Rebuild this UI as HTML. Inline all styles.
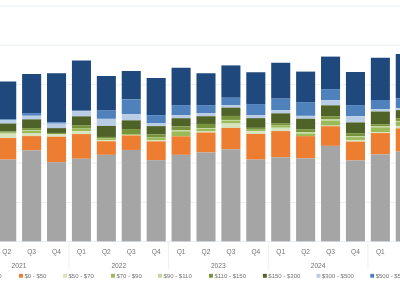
<!DOCTYPE html>
<html><head><meta charset="utf-8"><style>
html,body{margin:0;padding:0;background:#fff;width:400px;height:283px;overflow:hidden}
svg{display:block;position:absolute;left:0;top:0}
.t{will-change:transform}
text{font-family:"Liberation Sans",sans-serif;fill:#737373}
.q{font-size:7.2px}
.yr{font-size:7.6px}
.lg{font-size:6px}
</style></head><body>
<svg width="400" height="283" viewBox="0 0 400 283">
<rect x="0" y="5.50" width="400" height="1" fill="#EAF0F8"/>
<rect x="0" y="44.78" width="400" height="1" fill="#EAF0F8"/>
<rect x="0" y="84.06" width="400" height="1" fill="#EAF0F8"/>
<rect x="0" y="123.34" width="400" height="1" fill="#EAF0F8"/>
<rect x="0" y="162.62" width="400" height="1" fill="#EAF0F8"/>
<rect x="0" y="201.90" width="400" height="1" fill="#EAF0F8"/>
<rect x="0" y="240.90" width="400" height="1" fill="#E9EFF8"/>
<rect x="-2.81" y="81.50" width="19.05" height="37.85" fill="#1F497D"/>
<rect x="-2.81" y="119.35" width="19.05" height="1.00" fill="#4F81BD"/>
<rect x="-2.81" y="120.35" width="19.05" height="3.20" fill="#B9CDE5"/>
<rect x="-2.81" y="123.55" width="19.05" height="7.80" fill="#4F6228"/>
<rect x="-2.81" y="131.35" width="19.05" height="1.30" fill="#77933C"/>
<rect x="-2.81" y="132.65" width="19.05" height="1.00" fill="#9BBB59"/>
<rect x="-2.81" y="133.65" width="19.05" height="4.40" fill="#D7E4BD"/>
<rect x="-2.81" y="138.05" width="19.05" height="21.55" fill="#ED7D31"/>
<rect x="-2.81" y="159.60" width="19.05" height="81.80" fill="#A5A5A5"/>
<rect x="22.10" y="74.00" width="19.05" height="39.10" fill="#1F497D"/>
<rect x="22.10" y="113.10" width="19.05" height="2.65" fill="#4F81BD"/>
<rect x="22.10" y="115.75" width="19.05" height="3.60" fill="#B9CDE5"/>
<rect x="22.10" y="119.35" width="19.05" height="8.80" fill="#4F6228"/>
<rect x="22.10" y="128.15" width="19.05" height="1.95" fill="#77933C"/>
<rect x="22.10" y="130.10" width="19.05" height="0.85" fill="#C3D69B"/>
<rect x="22.10" y="130.95" width="19.05" height="2.50" fill="#9BBB59"/>
<rect x="22.10" y="133.45" width="19.05" height="2.65" fill="#D7E4BD"/>
<rect x="22.10" y="136.10" width="19.05" height="14.25" fill="#ED7D31"/>
<rect x="22.10" y="150.35" width="19.05" height="91.05" fill="#A5A5A5"/>
<rect x="47.01" y="73.25" width="19.05" height="49.00" fill="#1F497D"/>
<rect x="47.01" y="122.25" width="19.05" height="1.40" fill="#4F81BD"/>
<rect x="47.01" y="123.65" width="19.05" height="4.50" fill="#B9CDE5"/>
<rect x="47.01" y="128.15" width="19.05" height="4.80" fill="#4F6228"/>
<rect x="47.01" y="132.95" width="19.05" height="1.00" fill="#77933C"/>
<rect x="47.01" y="133.95" width="19.05" height="0.40" fill="#9BBB59"/>
<rect x="47.01" y="134.35" width="19.05" height="2.40" fill="#D7E4BD"/>
<rect x="47.01" y="136.75" width="19.05" height="25.40" fill="#ED7D31"/>
<rect x="47.01" y="162.15" width="19.05" height="79.25" fill="#A5A5A5"/>
<rect x="71.92" y="60.50" width="19.05" height="50.15" fill="#1F497D"/>
<rect x="71.92" y="110.65" width="19.05" height="0.50" fill="#4F81BD"/>
<rect x="71.92" y="111.15" width="19.05" height="5.20" fill="#B9CDE5"/>
<rect x="71.92" y="116.35" width="19.05" height="9.25" fill="#4F6228"/>
<rect x="71.92" y="125.60" width="19.05" height="2.85" fill="#77933C"/>
<rect x="71.92" y="128.45" width="19.05" height="2.60" fill="#9BBB59"/>
<rect x="71.92" y="131.05" width="19.05" height="3.05" fill="#D7E4BD"/>
<rect x="71.92" y="134.10" width="19.05" height="24.65" fill="#ED7D31"/>
<rect x="71.92" y="158.75" width="19.05" height="82.65" fill="#A5A5A5"/>
<rect x="96.83" y="76.00" width="19.05" height="34.60" fill="#1F497D"/>
<rect x="96.83" y="110.60" width="19.05" height="8.25" fill="#4F81BD"/>
<rect x="96.83" y="118.85" width="19.05" height="7.10" fill="#B9CDE5"/>
<rect x="96.83" y="125.95" width="19.05" height="11.00" fill="#4F6228"/>
<rect x="96.83" y="136.95" width="19.05" height="1.50" fill="#77933C"/>
<rect x="96.83" y="138.45" width="19.05" height="1.70" fill="#9BBB59"/>
<rect x="96.83" y="140.15" width="19.05" height="1.10" fill="#D7E4BD"/>
<rect x="96.83" y="141.25" width="19.05" height="13.60" fill="#ED7D31"/>
<rect x="96.83" y="154.85" width="19.05" height="86.55" fill="#A5A5A5"/>
<rect x="121.74" y="71.00" width="19.05" height="28.35" fill="#1F497D"/>
<rect x="121.74" y="99.35" width="19.05" height="14.75" fill="#4F81BD"/>
<rect x="121.74" y="114.10" width="19.05" height="6.25" fill="#B9CDE5"/>
<rect x="121.74" y="120.35" width="19.05" height="8.70" fill="#4F6228"/>
<rect x="121.74" y="129.05" width="19.05" height="5.10" fill="#77933C"/>
<rect x="121.74" y="134.15" width="19.05" height="0.90" fill="#9BBB59"/>
<rect x="121.74" y="135.05" width="19.05" height="0.40" fill="#D7E4BD"/>
<rect x="121.74" y="135.45" width="19.05" height="14.50" fill="#ED7D31"/>
<rect x="121.74" y="149.95" width="19.05" height="91.45" fill="#A5A5A5"/>
<rect x="146.65" y="78.00" width="19.05" height="37.15" fill="#1F497D"/>
<rect x="146.65" y="115.15" width="19.05" height="8.20" fill="#4F81BD"/>
<rect x="146.65" y="123.35" width="19.05" height="2.80" fill="#B9CDE5"/>
<rect x="146.65" y="126.15" width="19.05" height="8.30" fill="#4F6228"/>
<rect x="146.65" y="134.45" width="19.05" height="3.00" fill="#77933C"/>
<rect x="146.65" y="137.45" width="19.05" height="2.90" fill="#9BBB59"/>
<rect x="146.65" y="140.35" width="19.05" height="1.00" fill="#D7E4BD"/>
<rect x="146.65" y="141.35" width="19.05" height="18.80" fill="#ED7D31"/>
<rect x="146.65" y="160.15" width="19.05" height="81.25" fill="#A5A5A5"/>
<rect x="171.56" y="67.75" width="19.05" height="37.35" fill="#1F497D"/>
<rect x="171.56" y="105.10" width="19.05" height="10.25" fill="#4F81BD"/>
<rect x="171.56" y="115.35" width="19.05" height="2.90" fill="#B9CDE5"/>
<rect x="171.56" y="118.25" width="19.05" height="8.10" fill="#4F6228"/>
<rect x="171.56" y="126.35" width="19.05" height="4.00" fill="#77933C"/>
<rect x="171.56" y="130.35" width="19.05" height="1.00" fill="#C3D69B"/>
<rect x="171.56" y="131.35" width="19.05" height="5.00" fill="#9BBB59"/>
<rect x="171.56" y="136.35" width="19.05" height="18.50" fill="#ED7D31"/>
<rect x="171.56" y="154.85" width="19.05" height="86.55" fill="#A5A5A5"/>
<rect x="196.47" y="73.25" width="19.05" height="31.85" fill="#1F497D"/>
<rect x="196.47" y="105.10" width="19.05" height="8.25" fill="#4F81BD"/>
<rect x="196.47" y="113.35" width="19.05" height="2.90" fill="#B9CDE5"/>
<rect x="196.47" y="116.25" width="19.05" height="7.70" fill="#4F6228"/>
<rect x="196.47" y="123.95" width="19.05" height="4.10" fill="#77933C"/>
<rect x="196.47" y="128.05" width="19.05" height="0.80" fill="#C3D69B"/>
<rect x="196.47" y="128.85" width="19.05" height="2.60" fill="#9BBB59"/>
<rect x="196.47" y="131.45" width="19.05" height="1.10" fill="#D7E4BD"/>
<rect x="196.47" y="132.55" width="19.05" height="19.80" fill="#ED7D31"/>
<rect x="196.47" y="152.35" width="19.05" height="89.05" fill="#A5A5A5"/>
<rect x="221.38" y="65.40" width="19.05" height="32.35" fill="#1F497D"/>
<rect x="221.38" y="97.75" width="19.05" height="7.60" fill="#4F81BD"/>
<rect x="221.38" y="105.35" width="19.05" height="2.30" fill="#B9CDE5"/>
<rect x="221.38" y="107.65" width="19.05" height="8.30" fill="#4F6228"/>
<rect x="221.38" y="115.95" width="19.05" height="4.00" fill="#77933C"/>
<rect x="221.38" y="119.95" width="19.05" height="0.80" fill="#C3D69B"/>
<rect x="221.38" y="120.75" width="19.05" height="2.70" fill="#9BBB59"/>
<rect x="221.38" y="123.45" width="19.05" height="4.50" fill="#D7E4BD"/>
<rect x="221.38" y="127.95" width="19.05" height="21.30" fill="#ED7D31"/>
<rect x="221.38" y="149.25" width="19.05" height="92.15" fill="#A5A5A5"/>
<rect x="246.29" y="72.25" width="19.05" height="31.80" fill="#1F497D"/>
<rect x="246.29" y="104.05" width="19.05" height="11.30" fill="#4F81BD"/>
<rect x="246.29" y="115.35" width="19.05" height="2.80" fill="#B9CDE5"/>
<rect x="246.29" y="118.15" width="19.05" height="9.70" fill="#4F6228"/>
<rect x="246.29" y="127.85" width="19.05" height="1.90" fill="#77933C"/>
<rect x="246.29" y="129.75" width="19.05" height="1.60" fill="#9BBB59"/>
<rect x="246.29" y="131.35" width="19.05" height="2.60" fill="#D7E4BD"/>
<rect x="246.29" y="133.95" width="19.05" height="25.65" fill="#ED7D31"/>
<rect x="246.29" y="159.60" width="19.05" height="81.80" fill="#A5A5A5"/>
<rect x="271.20" y="62.75" width="19.05" height="35.90" fill="#1F497D"/>
<rect x="271.20" y="98.65" width="19.05" height="11.60" fill="#4F81BD"/>
<rect x="271.20" y="110.25" width="19.05" height="3.10" fill="#B9CDE5"/>
<rect x="271.20" y="113.35" width="19.05" height="9.80" fill="#4F6228"/>
<rect x="271.20" y="123.15" width="19.05" height="2.30" fill="#77933C"/>
<rect x="271.20" y="125.45" width="19.05" height="2.30" fill="#9BBB59"/>
<rect x="271.20" y="127.75" width="19.05" height="3.35" fill="#D7E4BD"/>
<rect x="271.20" y="131.10" width="19.05" height="26.25" fill="#ED7D31"/>
<rect x="271.20" y="157.35" width="19.05" height="84.05" fill="#A5A5A5"/>
<rect x="296.11" y="71.60" width="19.05" height="30.50" fill="#1F497D"/>
<rect x="296.11" y="102.10" width="19.05" height="13.75" fill="#4F81BD"/>
<rect x="296.11" y="115.85" width="19.05" height="2.90" fill="#B9CDE5"/>
<rect x="296.11" y="118.75" width="19.05" height="10.40" fill="#4F6228"/>
<rect x="296.11" y="129.15" width="19.05" height="3.10" fill="#77933C"/>
<rect x="296.11" y="132.25" width="19.05" height="1.70" fill="#C3D69B"/>
<rect x="296.11" y="133.95" width="19.05" height="2.20" fill="#9BBB59"/>
<rect x="296.11" y="136.15" width="19.05" height="22.20" fill="#ED7D31"/>
<rect x="296.11" y="158.35" width="19.05" height="83.05" fill="#A5A5A5"/>
<rect x="321.02" y="56.60" width="19.05" height="32.50" fill="#1F497D"/>
<rect x="321.02" y="89.10" width="19.05" height="11.10" fill="#4F81BD"/>
<rect x="321.02" y="100.20" width="19.05" height="5.15" fill="#B9CDE5"/>
<rect x="321.02" y="105.35" width="19.05" height="10.90" fill="#4F6228"/>
<rect x="321.02" y="116.25" width="19.05" height="3.20" fill="#77933C"/>
<rect x="321.02" y="119.45" width="19.05" height="1.30" fill="#C3D69B"/>
<rect x="321.02" y="120.75" width="19.05" height="4.90" fill="#9BBB59"/>
<rect x="321.02" y="125.65" width="19.05" height="0.60" fill="#D7E4BD"/>
<rect x="321.02" y="126.25" width="19.05" height="19.60" fill="#ED7D31"/>
<rect x="321.02" y="145.85" width="19.05" height="95.55" fill="#A5A5A5"/>
<rect x="345.93" y="72.00" width="19.05" height="33.10" fill="#1F497D"/>
<rect x="345.93" y="105.10" width="19.05" height="11.10" fill="#4F81BD"/>
<rect x="345.93" y="116.20" width="19.05" height="6.25" fill="#B9CDE5"/>
<rect x="345.93" y="122.45" width="19.05" height="10.70" fill="#4F6228"/>
<rect x="345.93" y="133.15" width="19.05" height="3.20" fill="#77933C"/>
<rect x="345.93" y="136.35" width="19.05" height="0.75" fill="#C3D69B"/>
<rect x="345.93" y="137.10" width="19.05" height="2.85" fill="#9BBB59"/>
<rect x="345.93" y="139.95" width="19.05" height="1.70" fill="#D7E4BD"/>
<rect x="345.93" y="141.65" width="19.05" height="18.70" fill="#ED7D31"/>
<rect x="345.93" y="160.35" width="19.05" height="81.05" fill="#A5A5A5"/>
<rect x="370.84" y="57.75" width="19.05" height="42.26" fill="#1F497D"/>
<rect x="370.84" y="100.01" width="19.05" height="9.29" fill="#4F81BD"/>
<rect x="370.84" y="109.30" width="19.05" height="2.25" fill="#B9CDE5"/>
<rect x="370.84" y="111.55" width="19.05" height="12.70" fill="#4F6228"/>
<rect x="370.84" y="124.25" width="19.05" height="2.10" fill="#77933C"/>
<rect x="370.84" y="126.35" width="19.05" height="1.00" fill="#C3D69B"/>
<rect x="370.84" y="127.35" width="19.05" height="4.80" fill="#9BBB59"/>
<rect x="370.84" y="132.15" width="19.05" height="0.95" fill="#D7E4BD"/>
<rect x="370.84" y="133.10" width="19.05" height="21.25" fill="#ED7D31"/>
<rect x="370.84" y="154.35" width="19.05" height="87.05" fill="#A5A5A5"/>
<rect x="395.75" y="54.00" width="19.05" height="44.15" fill="#1F497D"/>
<rect x="395.75" y="98.15" width="19.05" height="10.10" fill="#4F81BD"/>
<rect x="395.75" y="108.25" width="19.05" height="1.90" fill="#B9CDE5"/>
<rect x="395.75" y="110.15" width="19.05" height="8.10" fill="#4F6228"/>
<rect x="395.75" y="118.25" width="19.05" height="2.70" fill="#77933C"/>
<rect x="395.75" y="120.95" width="19.05" height="1.10" fill="#C3D69B"/>
<rect x="395.75" y="122.05" width="19.05" height="3.90" fill="#9BBB59"/>
<rect x="395.75" y="125.95" width="19.05" height="2.40" fill="#D7E4BD"/>
<rect x="395.75" y="128.35" width="19.05" height="23.25" fill="#ED7D31"/>
<rect x="395.75" y="151.60" width="19.05" height="89.80" fill="#A5A5A5"/>
<rect x="68.50" y="241.40" width="1" height="27.80" fill="#E9EFF8"/>
<rect x="168.10" y="241.40" width="1" height="27.80" fill="#E9EFF8"/>
<rect x="267.80" y="241.40" width="1" height="27.80" fill="#E9EFF8"/>
<rect x="367.40" y="241.40" width="1" height="27.80" fill="#E9EFF8"/>
<rect x="19.00" y="273.85" width="3.9" height="3.9" fill="#ED7D31"/>
<rect x="63.10" y="273.85" width="3.9" height="3.9" fill="#D7E4BD"/>
<rect x="111.00" y="273.85" width="3.9" height="3.9" fill="#9BBB59"/>
<rect x="158.10" y="273.85" width="3.9" height="3.9" fill="#C3D69B"/>
<rect x="209.00" y="273.85" width="3.9" height="3.9" fill="#77933C"/>
<rect x="262.90" y="273.85" width="3.9" height="3.9" fill="#4F6228"/>
<rect x="316.50" y="273.85" width="3.9" height="3.9" fill="#B9CDE5"/>
<rect x="370.25" y="273.85" width="3.9" height="3.9" fill="#4F81BD"/>
</svg>
<svg class="t" width="400" height="283" viewBox="0 0 400 283">
<text transform="translate(6.71 254.2) scale(0.92 1)" class="q" text-anchor="middle">Q2</text>
<text transform="translate(31.62 254.2) scale(0.92 1)" class="q" text-anchor="middle">Q3</text>
<text transform="translate(56.53 254.2) scale(0.92 1)" class="q" text-anchor="middle">Q4</text>
<text transform="translate(81.45 254.2) scale(0.92 1)" class="q" text-anchor="middle">Q1</text>
<text transform="translate(106.36 254.2) scale(0.92 1)" class="q" text-anchor="middle">Q2</text>
<text transform="translate(131.26 254.2) scale(0.92 1)" class="q" text-anchor="middle">Q3</text>
<text transform="translate(156.18 254.2) scale(0.92 1)" class="q" text-anchor="middle">Q4</text>
<text transform="translate(181.09 254.2) scale(0.92 1)" class="q" text-anchor="middle">Q1</text>
<text transform="translate(206.00 254.2) scale(0.92 1)" class="q" text-anchor="middle">Q2</text>
<text transform="translate(230.91 254.2) scale(0.92 1)" class="q" text-anchor="middle">Q3</text>
<text transform="translate(255.81 254.2) scale(0.92 1)" class="q" text-anchor="middle">Q4</text>
<text transform="translate(280.72 254.2) scale(0.92 1)" class="q" text-anchor="middle">Q1</text>
<text transform="translate(305.63 254.2) scale(0.92 1)" class="q" text-anchor="middle">Q2</text>
<text transform="translate(330.54 254.2) scale(0.92 1)" class="q" text-anchor="middle">Q3</text>
<text transform="translate(355.45 254.2) scale(0.92 1)" class="q" text-anchor="middle">Q4</text>
<text transform="translate(380.36 254.2) scale(0.92 1)" class="q" text-anchor="middle">Q1</text>
<text transform="translate(405.27 254.2) scale(0.92 1)" class="q" text-anchor="middle">Q2</text>
<text transform="translate(19.00 267.6) scale(0.88 1)" class="yr" text-anchor="middle">2021</text>
<text transform="translate(118.80 267.6) scale(0.88 1)" class="yr" text-anchor="middle">2022</text>
<text transform="translate(218.30 267.6) scale(0.88 1)" class="yr" text-anchor="middle">2023</text>
<text transform="translate(318.10 267.6) scale(0.88 1)" class="yr" text-anchor="middle">2024</text>
<text x="24.40" y="278.2" class="lg">$0 - $50</text>
<text x="68.50" y="278.2" class="lg">$50 - $70</text>
<text x="116.40" y="278.2" class="lg">$70 - $90</text>
<text x="163.50" y="278.2" class="lg">$90 - $110</text>
<text x="214.40" y="278.2" class="lg">$110 - $150</text>
<text x="268.30" y="278.2" class="lg">$150 - $300</text>
<text x="321.90" y="278.2" class="lg">$300 - $500</text>
<text x="375.65" y="278.2" class="lg">$500 - $5000</text>
<text x="1.6" y="278.2" class="lg" text-anchor="end">$0</text>
</svg>
</body></html>
